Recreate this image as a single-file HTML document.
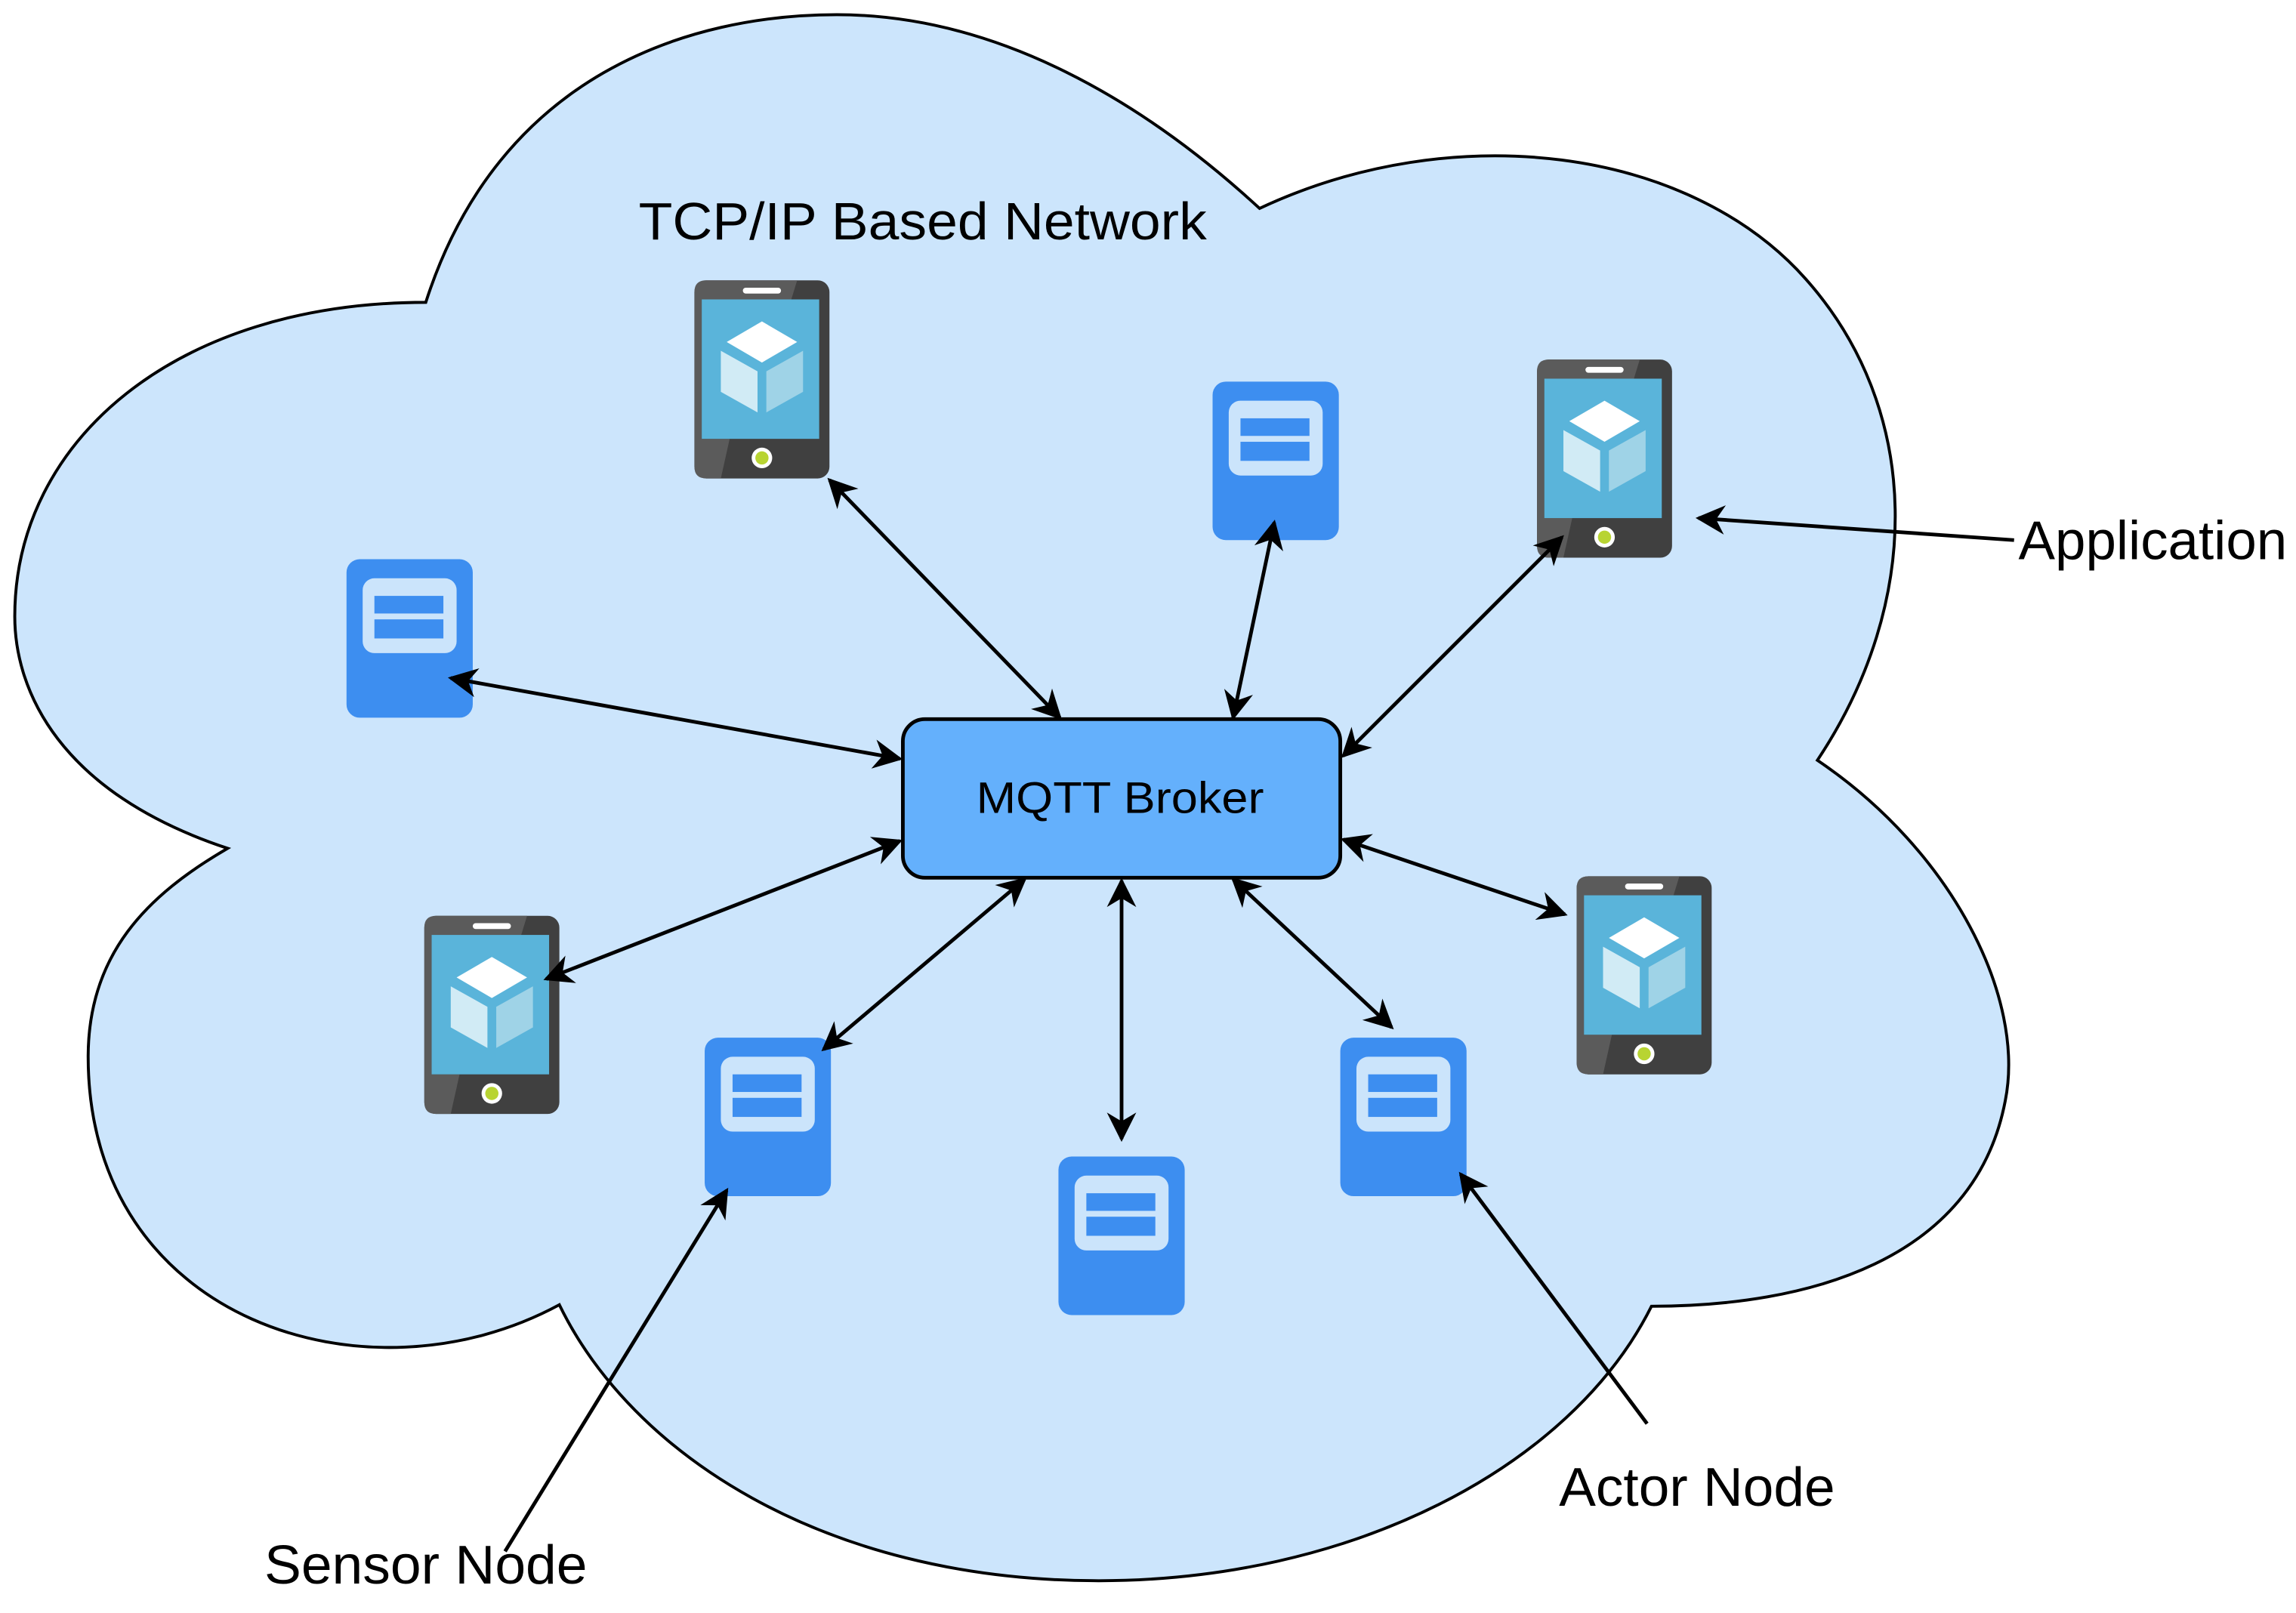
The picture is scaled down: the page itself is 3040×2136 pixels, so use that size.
<!DOCTYPE html>
<html><head><meta charset="utf-8"><style>
html,body{margin:0;padding:0;background:#fff;}
svg{display:block;}
text{font-family:"Liberation Sans",Arial,sans-serif;fill:#000;}
</style></head><body>
<svg width="3040" height="2136" viewBox="0 0 1564 1099" xmlns="http://www.w3.org/2000/svg">
<defs>
<marker id="a" viewBox="0 0 10 10" refX="9" refY="5" markerUnits="userSpaceOnUse" markerWidth="27" markerHeight="20" orient="auto-start-reverse">
<path d="M0,0 L10,5 L0,10 L3,5 z" fill="#000"/>
</marker>
<g id="phone">
<rect x="0" y="0" width="92" height="135" rx="8" fill="#404040"/>
<path d="M8,0 L70,0 L66,13 L5,13 L5,108 L24,108 L18,135 L8,135 Q0,135 0,127 L0,8 Q0,0 8,0 z" fill="#5b5b5b"/>
<rect x="5" y="13" width="80" height="95" fill="#5ab4da"/>
<rect x="33" y="5" width="26" height="4" rx="2" fill="#fff"/>
<ellipse cx="46" cy="121" rx="7" ry="7" fill="#fff"/>
<ellipse cx="46" cy="121" rx="4.5" ry="4.5" fill="#b8d432"/>
<path d="M46,28 L70,42 L46,56 L22,42 z" fill="#fff"/>
<path d="M18,48 L43,62 L43,90 L18,76 z" fill="#d1ebf5"/>
<path d="M49,62 L74,48 L74,76 L49,90 z" fill="#9fd3e7"/>
</g>
<g id="server">
<rect x="0" y="0" width="86" height="108" rx="9" fill="#3d8ef0"/>
<rect x="11" y="13" width="64" height="51" rx="8" fill="#cbe4fb"/>
<rect x="19" y="25" width="47" height="12" fill="#3d8ef0"/>
<rect x="19" y="41" width="47" height="13" fill="#3d8ef0"/>
</g>
</defs>
<rect width="1564" height="1099" fill="#fff"/>
<path d="M290,206 C340,50 470,10 570,10 C680,10 780,70 858,142 C990,80 1150,100 1230,190 C1310,280 1310,410 1238,518 C1330,580 1380,680 1366,750 C1345,860 1230,890 1125,890 C1070,1000 920,1078 745,1077 C560,1076 430,990 381,889 C250,960 60,900 60,720 C60,650 100,610 155,578 C40,540 10,470 10,420 C10,300 120,206 290,206 Z" fill="#cce5fc" stroke="#000" stroke-width="2"/>
<text x="435" y="163" font-size="36" textLength="387" lengthAdjust="spacingAndGlyphs">TCP/IP Based Network</text>
<use href="#phone" x="473" y="191"/>
<use href="#phone" x="1047" y="245"/>
<use href="#phone" x="289" y="624"/>
<use href="#phone" x="1074" y="597"/>
<use href="#server" x="826" y="260"/>
<use href="#server" x="236" y="381"/>
<use href="#server" x="480" y="707"/>
<use href="#server" x="721" y="788"/>
<use href="#server" x="913" y="707"/>
<rect x="615" y="490" width="298" height="108" rx="15" fill="#64b0fc" stroke="#000" stroke-width="2.5"/>
<text x="665" y="554" font-size="30" textLength="196" lengthAdjust="spacingAndGlyphs">MQTT Broker</text>
<g stroke="#000" stroke-width="2.5" fill="none">
<line x1="565" y1="327" x2="722" y2="489" marker-start="url(#a)" marker-end="url(#a)"/>
<line x1="868" y1="356" x2="840" y2="489" marker-start="url(#a)" marker-end="url(#a)"/>
<line x1="1064" y1="366" x2="915" y2="515" marker-start="url(#a)" marker-end="url(#a)"/>
<line x1="307" y1="462" x2="613" y2="517" marker-start="url(#a)" marker-end="url(#a)"/>
<line x1="372" y1="667" x2="613" y2="573" marker-start="url(#a)" marker-end="url(#a)"/>
<line x1="561" y1="715" x2="698" y2="599" marker-start="url(#a)" marker-end="url(#a)"/>
<line x1="764" y1="600" x2="764" y2="776" marker-start="url(#a)" marker-end="url(#a)"/>
<line x1="840" y1="599" x2="948" y2="700" marker-start="url(#a)" marker-end="url(#a)"/>
<line x1="915" y1="572" x2="1066" y2="623" marker-start="url(#a)" marker-end="url(#a)"/>
<line x1="1372" y1="368" x2="1157" y2="353" marker-end="url(#a)"/>
<line x1="344" y1="1057" x2="495" y2="811" marker-end="url(#a)"/>
<line x1="1122" y1="970" x2="995" y2="800" marker-end="url(#a)"/>
</g>
<text x="1375" y="381" font-size="37" textLength="183" lengthAdjust="spacingAndGlyphs">Application</text>
<text x="180" y="1079" font-size="37" textLength="220" lengthAdjust="spacingAndGlyphs">Sensor Node</text>
<text x="1062" y="1026" font-size="37" textLength="188" lengthAdjust="spacingAndGlyphs">Actor Node</text>
</svg>
</body></html>
